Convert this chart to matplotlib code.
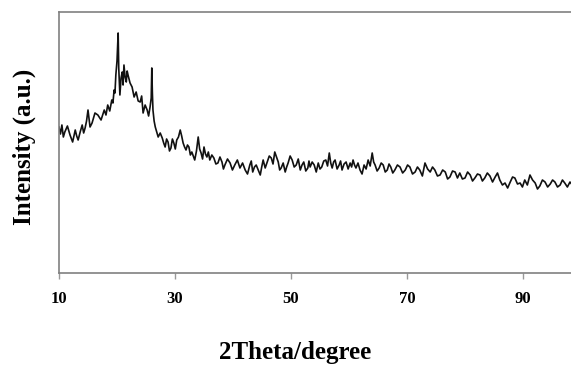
"""XRD pattern: intensity vs 2theta."""

import matplotlib
matplotlib.use('Agg')
import matplotlib.pyplot as plt

# values (2theta in degrees, intensity in a.u.)
TWO_THETA = [
    10.0, 10.25, 10.5, 10.75, 11.0, 11.45, 11.9, 12.35, 12.8, 13.05, 13.3, 13.65,
    14.0, 14.25, 14.5, 14.75, 15.0, 15.35, 15.7, 16.2, 16.7, 17.25, 17.8, 18.1,
    18.4, 18.75, 19.1, 19.3, 19.5, 19.65, 19.8, 20.0, 20.2, 20.3, 20.5, 20.7,
    20.9, 21.05, 21.2, 21.4, 21.6, 21.75, 21.9, 22.25, 22.6, 22.95, 23.3, 23.65,
    24.0, 24.25, 24.5, 24.85, 25.2, 25.45, 25.7, 25.9, 26.0, 26.1, 26.2, 26.4,
    26.6, 26.85, 27.1, 27.45, 27.8, 28.05, 28.3, 28.55, 28.8, 29.05, 29.3, 29.55,
    29.8, 30.05, 30.3, 30.6, 30.9, 31.15, 31.4, 31.65, 31.9, 32.15, 32.4, 32.65,
    32.9, 33.15, 33.4, 33.7, 34.0, 34.25, 34.5, 34.75, 35.0, 35.25, 35.5, 35.75,
    36.0, 36.35, 36.7, 37.05, 37.4, 37.75, 38.1, 38.35, 38.6, 39.05, 39.5, 39.9,
    40.3, 40.75, 41.2, 41.65, 42.1, 42.5, 42.9, 43.15, 43.4, 43.7, 44.0, 44.35,
    44.7, 44.95, 45.2, 45.55, 45.9, 46.25, 46.6, 46.9, 47.2, 47.5, 47.8, 48.05,
    48.3, 48.65, 49.0, 49.25, 49.5, 49.85, 50.2, 50.55, 50.9, 51.25, 51.6, 51.9,
    52.2, 52.55, 52.9, 53.1, 53.3, 53.65, 54.0, 54.35, 54.7, 55.0, 55.3, 55.65,
    56.0, 56.3, 56.6, 56.85, 57.1, 57.35, 57.6, 57.95, 58.3, 58.55, 58.8, 59.15,
    59.5, 59.85, 60.2, 60.45, 60.7, 60.95, 61.2, 61.55, 61.9, 62.25, 62.6, 62.95,
    63.3, 63.65, 64.0, 64.25, 64.5, 64.85, 65.2, 65.55, 65.9, 66.25, 66.6, 66.9,
    67.2, 67.55, 67.9, 68.35, 68.8, 69.25, 69.7, 70.1, 70.5, 70.95, 71.4, 71.8,
    72.2, 72.65, 73.1, 73.55, 74.0, 74.4, 74.8, 75.25, 75.7, 76.15, 76.6, 77.0,
    77.4, 77.85, 78.3, 78.7, 79.1, 79.55, 80.0, 80.45, 80.9, 81.3, 81.7, 82.15,
    82.6, 83.0, 83.4, 83.85, 84.3, 84.75, 85.2, 85.6, 86.0, 86.45, 86.9, 87.35,
    87.8, 88.2, 88.6, 89.05, 89.5, 89.9, 90.3, 90.75, 91.2, 91.65, 92.1, 92.5,
    92.9, 93.35, 93.8, 94.25, 94.7, 95.1, 95.5, 95.95, 96.4, 96.8, 97.2, 97.65,
    98.1, 98.5,
]
INTENSITY = [
    146, 139, 148, 136, 141, 147, 138, 131, 143, 137, 133, 141,
    148, 140, 145, 152, 163, 146, 150, 160, 158, 153, 163, 158,
    168, 162, 173, 170, 183, 180, 198, 212, 240, 205, 178, 195,
    201, 188, 208, 196, 191, 202, 198, 190, 186, 176, 181, 172,
    171, 177, 160, 168, 163, 157, 166, 175, 205, 180, 163, 152,
    146, 141, 136, 140, 135, 130, 126, 134, 131, 122, 125, 134,
    130, 124, 133, 136, 143, 137, 130, 126, 123, 128, 126, 118,
    121, 117, 113, 122, 136, 124, 120, 114, 126, 119, 116, 121,
    113, 118, 115, 109, 110, 116, 111, 104, 108, 114, 110, 103,
    108, 113, 105, 110, 103, 99, 108, 112, 101, 106, 108, 103,
    98, 106, 113, 105, 111, 117, 115, 109, 121, 116, 111, 103,
    105, 110, 101, 106, 110, 117, 113, 106, 108, 114, 103, 108,
    111, 102, 105, 112, 106, 111, 108, 101, 110, 104, 106, 112,
    113, 107, 120, 110, 105, 111, 113, 104, 108, 112, 103, 109,
    111, 104, 110, 106, 113, 108, 105, 110, 103, 99, 108, 104,
    113, 107, 120, 111, 108, 102, 105, 110, 108, 101, 103, 109,
    106, 100, 103, 108, 106, 100, 103, 108, 106, 99, 101, 106,
    103, 97, 110, 104, 101, 106, 103, 97, 98, 103, 101, 94,
    96, 102, 101, 95, 100, 94, 95, 101, 98, 92, 95, 99,
    98, 92, 95, 100, 97, 91, 96, 100, 93, 88, 90, 85,
    91, 96, 95, 89, 90, 86, 93, 88, 98, 93, 90, 84,
    87, 93, 91, 86, 89, 93, 91, 86, 88, 93, 90, 86,
    91, 88,
]
X_TICKS = [10, 30, 50, 70, 90]

plt.rcParams['font.family'] = ['Liberation Serif', 'DejaVu Serif']

fig = plt.figure(figsize=(5.71, 3.66), dpi=100)
# frame runs past the right edge, as in the cropped original
ax = fig.add_axes([59 / 571, 93 / 366, 522 / 571, 261 / 366])

ax.plot(TWO_THETA, INTENSITY, color='#111111', linewidth=1.2)

ax.set_xlim(10, 100)
ax.set_ylim(0, 261)
ax.set_xticks(X_TICKS)
ax.set_xticklabels([str(t) for t in X_TICKS], fontweight='bold', fontsize=12)
ax.set_yticks([])
ax.tick_params(axis='x', direction='out', length=4, width=1, color='#999999', pad=9)

for sp in ax.spines.values():
    sp.set_color('#808080')
    sp.set_linewidth(1.2)

fig.text(295 / 571, 1 - 353 / 366, '2Theta/degree', fontweight='bold', fontsize=18,
         ha='center', va='center')
fig.text(24 / 571, 1 - 147 / 366, 'Intensity (a.u.)', fontweight='bold', fontsize=18,
         ha='center', va='center', rotation=90)

fig.savefig('out.png', dpi=100)
